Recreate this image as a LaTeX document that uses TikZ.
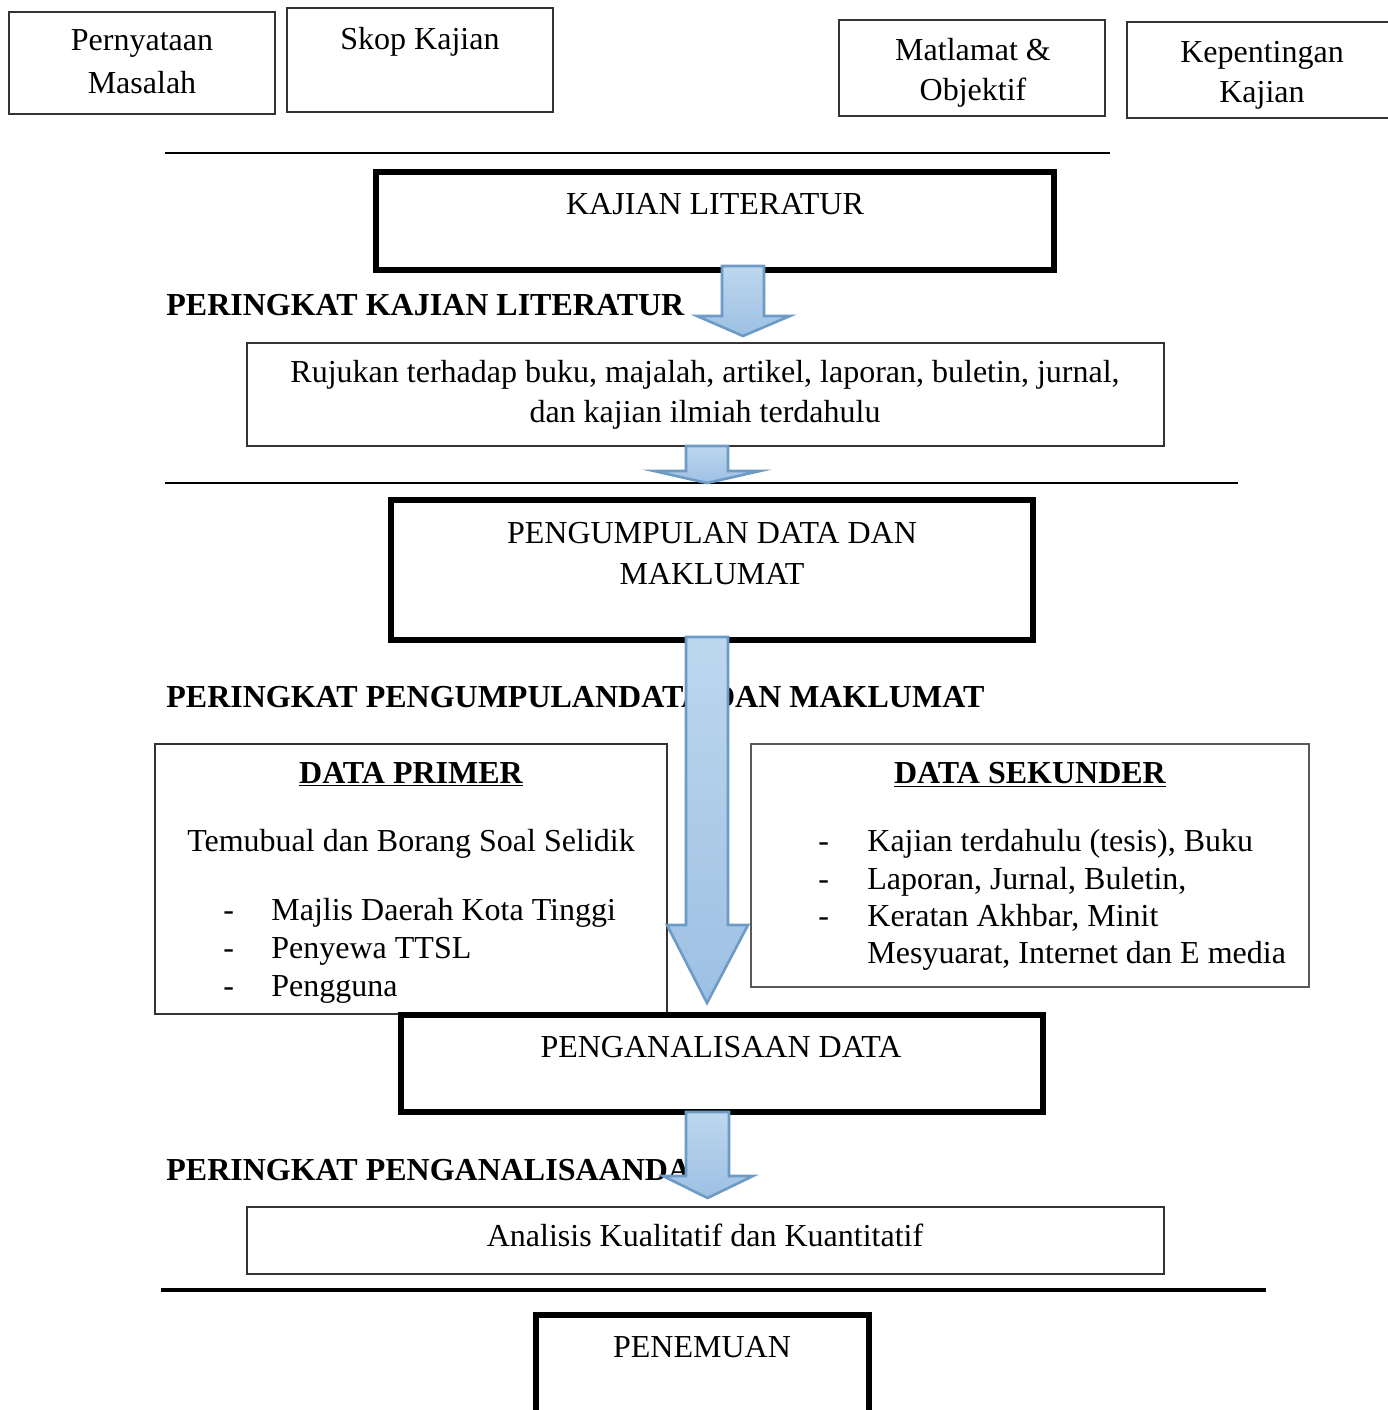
\documentclass[tikz,border=0pt]{standalone}
\usepackage{fontspec}
\setmainfont{Liberation Serif}
\usetikzlibrary{fit}
\definecolor{arrTop}{HTML}{BDD7EE}
\definecolor{arrBot}{HTML}{9DC0E3}
\definecolor{arrEdge}{HTML}{6E9AC6}
\tikzset{
  thinbox/.style={draw=black!80, line width=0.6pt, inner sep=0pt, outer sep=0pt},
  thickbox/.style={draw=black, line width=2.6pt, inner sep=0pt, outer sep=0pt},
  txt/.style={anchor=base, inner sep=0pt, font=\fontsize{16}{19}\selectfont},
  btxt/.style={anchor=base west, inner sep=0pt, font=\fontsize{16}{19}\selectfont\bfseries},
  ltxt/.style={anchor=base west, inner sep=0pt, font=\fontsize{16}{19}\selectfont},
  rule/.style={line width=0.7pt},
  blockarrow/.style={top color=arrTop, bottom color=arrBot, draw=arrEdge, line width=1.3pt, line join=miter}
}
% #1 xl, #2 xr, #3 ytop, #4 yneck, #5 headl, #6 headr, #7 ytip
\newcommand\myblockarrow[7]{%
  \path[blockarrow] (#1,#3) -- (#2,#3) -- (#2,#4) -- (#6,#4) -- ({(#1+#2)/2},#7) -- (#5,#4) -- (#1,#4) -- cycle;}
\begin{document}
\begin{tikzpicture}[x=0.5pt,y=-0.5pt]
\useasboundingbox (0,0) rectangle (1388,1410);
% top boxes
\node[thinbox, fit={(9,12)(275,114)}] (pm) {};
\node[txt] (pmt1) at (142,50) {Pernyataan};
\node[txt] (pmt2) at (142,93) {Masalah};
\node[thinbox, fit={(287,8)(553,112)}] (sk) {};
\node[txt] (skt) at (420,49) {Skop Kajian};
\node[thinbox, fit={(839,20)(1105,116)}] (mo) {};
\node[txt] (mot1) at (973,60) {Matlamat \&};
\node[txt] (mot2) at (973,100) {Objektif};
\node[thinbox, fit={(1127,22)(1390,118)}] (kk) {};
\node[txt] (kkt1) at (1262,62) {Kepentingan};
\node[txt] (kkt2) at (1262,102) {Kajian};
% rule 1
\coordinate (r1a) at (165,153); \coordinate (r1b) at (1110,153);
\draw[rule] (r1a) -- (r1b);
% kajian literatur
\node[thickbox, fit={(376,172)(1054,270)}] (kl) {};
\node[txt] (klt) at (715,214) {KAJIAN LITERATUR};
\node[btxt] (pkl) at (166,315) {PERINGKAT KAJIAN LITERATUR};
\myblockarrow{722}{764}{266}{316}{697}{790}{336}
% rujukan
\node[thinbox, fit={(247,343)(1164,446)}] (rj) {};
\node[txt] (rjt1) at (705,382) {Rujukan terhadap buku, majalah, artikel, laporan, buletin, jurnal,};
\node[txt] (rjt2) at (705,422) {dan kajian ilmiah terdahulu};
% rule 2
\coordinate (r2a) at (165,483); \coordinate (r2b) at (1238,483);
\draw[rule] (r2a) -- (r2b);
\myblockarrow{686}{728}{446}{471}{654}{760}{483}
% pengumpulan
\node[thickbox, fit={(391,500)(1033,640)}] (pd) {};
\node[txt] (pdt1) at (712,543) {PENGUMPULAN DATA DAN};
\node[txt] (pdt2) at (712,584) {MAKLUMAT};
\node[btxt] (ppd) at (166,707) {PERINGKAT PENGUMPULANDATA DAN MAKLUMAT};
% data primer
\node[thinbox, fit={(155,744)(667,1014)}] (dp) {};
\node[txt, font=\fontsize{16}{19}\selectfont\bfseries] (dpt) at (411,783) {\underline{DATA PRIMER}};
\node[txt] (dp0) at (411,851) {Temubual dan Borang Soal Selidik};
\node[ltxt] (dpd1) at (223,920) {-};
\node[ltxt] (dp1) at (271,920) {Majlis Daerah Kota Tinggi};
\node[ltxt] (dpd2) at (223,958) {-};
\node[ltxt] (dp2) at (271,958) {Penyewa TTSL};
\node[ltxt] (dpd3) at (223,996) {-};
\node[ltxt] (dp3) at (271,996) {Pengguna};
% data sekunder
\node[thinbox, draw=black!65, fit={(751,744)(1309,987)}] (ds) {};
\node[txt, font=\fontsize{16}{19}\selectfont\bfseries] (dst) at (1030,783) {\underline{DATA SEKUNDER}};
\node[ltxt] (dsd1) at (818,851) {-};
\node[ltxt] (ds1) at (867,851) {Kajian terdahulu (tesis), Buku};
\node[ltxt] (dsd2) at (818,889) {-};
\node[ltxt] (ds2) at (867,889) {Laporan, Jurnal, Buletin,};
\node[ltxt] (dsd3) at (818,926) {-};
\node[ltxt] (ds3) at (867,926) {Keratan Akhbar, Minit};
\node[ltxt] (ds4) at (867,963) {Mesyuarat, Internet dan E media};
% long arrow
\myblockarrow{686}{728}{637}{925}{667}{748}{1003}
% penganalisaan
\node[thickbox, fit={(401,1015)(1043,1112)}] (pa) {};
\node[txt] (pat) at (721,1057) {PENGANALISAAN DATA};
\node[btxt] (ppa) at (166,1180) {PERINGKAT PENGANALISAANDATA};
\myblockarrow{686}{729}{1112}{1176}{663}{753}{1198}
% analisis
\node[thinbox, fit={(247,1207)(1164,1274)}] (an) {};
\node[txt] (ant) at (705,1246) {Analisis Kualitatif dan Kuantitatif};
% rule 3
\coordinate (r3a) at (161,1290); \coordinate (r3b) at (1266,1290);
\draw[line width=1.6pt] (r3a) -- (r3b);
% penemuan
\node[thickbox, fit={(536,1315)(869,1420)}] (pn) {};
\node[txt] (pnt) at (702,1357) {PENEMUAN};
\end{tikzpicture}
\end{document}
